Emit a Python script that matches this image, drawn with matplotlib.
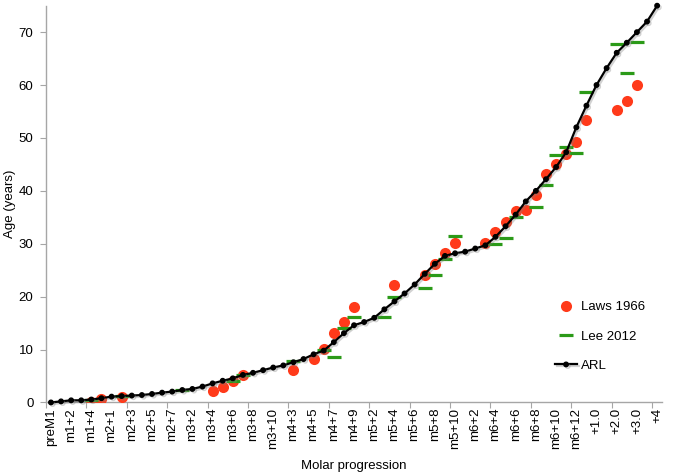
import matplotlib
matplotlib.use("Agg")
import matplotlib.pyplot as plt
import matplotlib.patheffects as pe
import numpy as np

# ==============================
# DATA
# ==============================

# every second category carries a label on the x axis
tick_labels = ["preM1", "m1+2", "m1+4", "m2+1", "m2+3", "m2+5", "m2+7",
               "m3+2", "m3+4", "m3+6", "m3+8", "m3+10", "m4+3", "m4+5",
               "m4+7", "m4+9", "m5+2", "m5+4", "m5+6", "m5+8", "m5+10",
               "m6+2", "m6+4", "m6+6", "m6+8", "m6+10", "m6+12",
               "+1.0", "+2.0", "+3.0", "+4"]

# ARL, one age per molar category (61 categories)
arl_age = [0.0, 0.2, 0.4, 0.4, 0.55, 0.8, 1.1, 1.2, 1.3, 1.4,
           1.6, 1.85, 2.05, 2.35, 2.55, 3.0, 3.6, 4.1, 4.55, 5.2,
           5.6, 6.1, 6.6, 7.0, 7.6, 8.2, 9.1, 9.8, 11.4, 13.1,
           14.6, 15.2, 16.0, 17.6, 19.1, 20.6, 22.3, 24.3, 26.2, 27.7,
           28.2, 28.5, 29.1, 29.7, 31.3, 33.3, 35.5, 38.0, 40.0, 42.2,
           44.5, 47.3, 52.0, 56.1, 60.0, 63.2, 66.1, 68.0, 70.0, 72.0,
           75.0]

# Laws 1966: category index and age
laws_cat = [4, 5, 7, 16, 17, 18, 19, 24, 26, 27, 28, 29, 30, 34, 37, 38,
            39, 40, 43, 44, 45, 46, 47, 48, 49, 50, 51, 52, 53, 56, 57, 58]
laws_age = [0.0, 0.65, 1.1, 2.2, 3.0, 4.1, 5.2, 6.2, 8.2, 10.1, 13.2, 15.2,
            18.1, 22.2, 24.1, 26.2, 28.2, 30.1, 30.1, 32.2, 34.1, 36.2,
            36.3, 39.3, 43.2, 45.1, 47.0, 49.2, 53.3, 55.2, 57.0, 60.0]

# Lee 2012: category index and age
lee_cat = [4, 7, 13, 18, 19, 24, 27, 28, 29, 30, 33, 34, 37, 38, 39, 40,
           44, 45, 46, 48, 49, 50, 51, 52, 53, 56, 57, 58]
lee_age = [0.45, 1.3, 2.35, 4.1, 5.2, 7.8, 9.9, 8.5, 14.1, 16.2, 16.2,
           20.0, 21.6, 24.1, 27.1, 31.5, 30.0, 31.1, 35.1, 37.0, 41.1,
           46.7, 48.2, 47.1, 58.6, 67.7, 62.2, 68.1]

# ==============================
# PLOT
# ==============================

plt.rcParams['font.family'] = ['Liberation Sans', 'DejaVu Sans']
plt.rcParams['font.size'] = 9.5

fig = plt.figure(figsize=(6.75, 4.74), dpi=100)
ax = fig.add_axes([0.068, 0.151, 0.913, 0.837])

x_arl = np.arange(len(arl_age))

ax.plot(laws_cat, laws_age, linestyle='none', marker='o', markersize=8,
        color='#ff3a1a', markeredgewidth=0, label='Laws 1966', zorder=3)
ax.plot(lee_cat, lee_age, linestyle='none', marker='_', markersize=9.5,
        markeredgewidth=2.3, color='#2b9a18', label='Lee 2012', zorder=4)
ax.plot(x_arl, arl_age, color='black', linewidth=1.6, marker='o',
        markersize=3.2, label='ARL', zorder=5, clip_on=False,
        path_effects=[pe.SimpleLineShadow(offset=(1.2, -1.2), shadow_color='gray',
                                          alpha=0.35),
                      pe.Normal()])

ax.set_xlim(-0.5, len(arl_age) - 0.5)
ax.set_ylim(0, 75)

# labels on every other category, tick marks between groups of four
ax.set_xticks(np.arange(0, len(arl_age), 2))
ax.set_xticklabels(tick_labels, rotation=90)
ax.set_xticks(np.arange(-0.5, len(arl_age), 4), minor=True)
ax.tick_params(axis='x', which='major', length=0, pad=4)
ax.tick_params(axis='x', which='minor', length=4, color='#a6a6a6', width=0.8)

ax.set_yticks(np.arange(0, 71, 10))
ax.tick_params(axis='y', length=4, color='#a6a6a6', width=0.8, pad=5)

for side in ['top', 'right']:
    ax.spines[side].set_visible(False)
for side in ['left', 'bottom']:
    ax.spines[side].set_color('#a6a6a6')
    ax.spines[side].set_linewidth(1.0)

ax.set_xlabel('Molar progression', labelpad=8)
ax.set_ylabel('Age (years)')
ax.yaxis.set_label_coords(-0.049, 0.5)

ax.legend(loc='center left', bbox_to_anchor=(0.822, 0.29),
          bbox_transform=fig.transFigure, frameon=False,
          labelspacing=1.3, handlelength=1.7, handletextpad=0.25,
          borderpad=0, borderaxespad=0, numpoints=1)

plt.savefig("out.png", dpi=100)
